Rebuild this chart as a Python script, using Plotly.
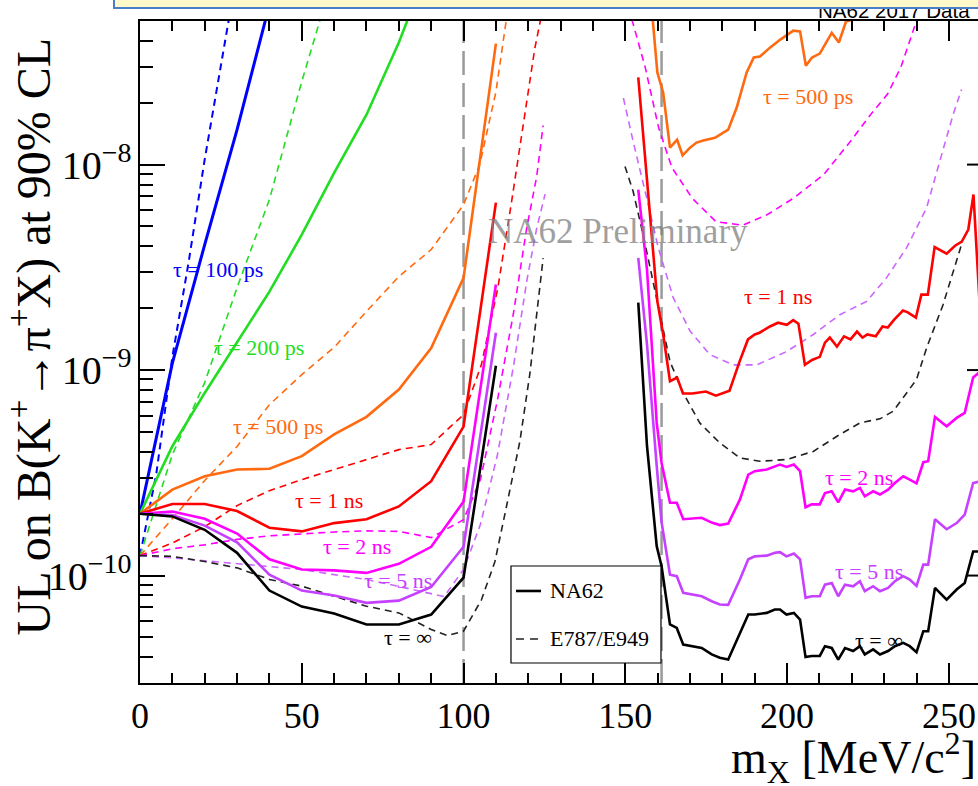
import plotly.graph_objects as go

# ---------------- data ----------------
# NA62 solid curves, low-mass region (x in MeV/c^2)
x_left = [0, 10, 20, 30, 40, 50, 60, 70, 80, 90, 100, 110]
na62_inf_left = [2.0e-10, 1.94e-10, 1.67e-10, 1.29e-10, 8.45e-11, 7.06e-11, 6.53e-11,
                 5.78e-11, 5.78e-11, 6.46e-11, 9.77e-11, 1.05e-9]
na62_5ns_left = [2.0e-10, 1.97e-10, 1.75e-10, 1.45e-10, 1.01e-10, 8.45e-11, 8.0e-11,
                 7.36e-11, 7.55e-11, 8.79e-11, 1.38e-10, 1.52e-9]
na62_2ns_left = [2.0e-10, 2.05e-10, 1.89e-10, 1.60e-10, 1.20e-10, 1.07e-10, 1.06e-10,
                 1.03e-10, 1.14e-10, 1.38e-10, 2.29e-10, 2.61e-9]
na62_1ns_left = [2.0e-10, 2.23e-10, 2.23e-10, 2.06e-10, 1.71e-10, 1.64e-10, 1.80e-10,
                 1.88e-10, 2.17e-10, 2.88e-10, 5.31e-10, 6.53e-9]
na62_500ps_left = [2.0e-10, 2.62e-10, 3.04e-10, 3.28e-10, 3.31e-10, 3.81e-10, 4.86e-10,
                   5.92e-10, 8.04e-10, 1.28e-9, 2.81e-9, 3.88e-8]
x_200ps = [0, 10, 20, 30, 40, 50, 60, 70, 80, 90]
na62_200ps = [2.0e-10, 4.26e-10, 7.74e-10, 1.36e-9, 2.41e-9, 4.56e-9, 9.11e-9,
              1.75e-8, 3.93e-8, 1.0e-7]
x_100ps = [0, 10, 20, 30, 40]
na62_100ps = [2.0e-10, 1.08e-9, 4.08e-9, 1.48e-8, 6.0e-8]

# NA62 solid curves, high-mass region
x_right = [154.0, 156.7, 159.7, 161.2, 163.8, 165.9, 167.9, 173.6, 176.7, 179.2,
           181.8, 185.4, 188.0, 190.0, 193.7, 196.2, 197.8, 199.8, 202.1, 204.0,
           205.7, 207.6, 210.1, 211.7, 213.8, 215.8, 217.9, 220.4, 222.5, 224.0,
           226.6, 228.7, 231.2, 233.3, 235.9, 237.9, 240.0, 242.1, 243.6, 245.7,
           249.3, 252.4, 254.9, 257.5, 259.6]
na62_inf_right = [2.13e-9, 4.26e-10, 1.39e-10, 1.11e-10, 5.78e-11, 5.56e-11, 4.61e-11,
                  4.44e-11, 4.13e-11, 3.98e-11, 3.90e-11, 5.26e-11, 6.46e-11, 6.46e-11,
                  6.58e-11, 6.84e-11, 6.84e-11, 6.46e-11, 6.58e-11, 6.11e-11, 4.01e-11,
                  4.06e-11, 4.06e-11, 4.53e-11, 4.44e-11, 3.90e-11, 4.44e-11, 4.29e-11,
                  4.53e-11, 4.13e-11, 4.37e-11, 4.13e-11, 4.29e-11, 4.53e-11, 4.70e-11,
                  4.53e-11, 4.24e-11, 5.36e-11, 5.36e-11, 8.71e-11, 7.64e-11, 8.55e-11,
                  9.2e-11, 1.31e-10, 1.31e-10]
na62_5ns_right = [3.52e-9, 1.33e-9, 3.42e-10, 1.82e-10, 1.01e-10, 9.93e-11, 8.24e-11,
                  7.93e-11, 7.50e-11, 7.23e-11, 7.20e-11, 9.57e-11, 1.20e-10, 1.24e-10,
                  1.25e-10, 1.29e-10, 1.30e-10, 1.24e-10, 1.28e-10, 1.20e-10, 7.79e-11,
                  7.93e-11, 7.93e-11, 9.03e-11, 9.2e-11, 7.93e-11, 9.03e-11, 8.87e-11,
                  9.38e-11, 8.39e-11, 8.87e-11, 8.39e-11, 8.71e-11, 9.38e-11, 9.93e-11,
                  9.57e-11, 8.9e-11, 1.13e-10, 1.13e-10, 1.88e-10, 1.68e-10, 1.80e-10,
                  1.98e-10, 2.82e-10, 2.87e-10]
na62_2ns_right = [7.55e-9, 3.08e-9, 5.53e-10, 3.53e-10, 2.26e-10, 2.26e-10, 1.88e-10,
                  1.91e-10, 1.81e-10, 1.76e-10, 1.79e-10, 2.34e-10, 3.10e-10, 3.22e-10,
                  3.28e-10, 3.41e-10, 3.47e-10, 3.38e-10, 3.47e-10, 3.22e-10, 2.15e-10,
                  2.22e-10, 2.22e-10, 2.52e-10, 2.57e-10, 2.27e-10, 2.62e-10, 2.57e-10,
                  2.67e-10, 2.43e-10, 2.57e-10, 2.48e-10, 2.62e-10, 2.82e-10, 3.04e-10,
                  2.93e-10, 2.81e-10, 3.56e-10, 3.60e-10, 5.91e-10, 5.33e-10, 5.85e-10,
                  6.19e-10, 9.2e-10, 9.8e-10]
x_1ns_right = [154.0, 159.9, 161.7, 163.8, 166.0, 167.8, 170.7, 174.9, 178.0, 182.2,
               185.3, 187.9, 190.0, 191.5, 194.7, 197.2, 199.9, 201.9, 203.5, 205.5,
               207.7, 210.1, 211.7, 213.2, 215.4, 217.6, 219.6, 221.6, 223.3, 224.8,
               227.4, 229.5, 231.1, 233.1, 235.8, 237.3, 239.8, 241.5, 243.5, 245.6,
               249.3, 251.9, 254.0, 256.0, 257.6, 259.6]
na62_1ns_right = [2.66e-8, 2.16e-9, 1.49e-9, 8.83e-10, 9.2e-10, 7.69e-10, 7.69e-10,
                  7.86e-10, 7.51e-10, 7.94e-10, 1.10e-9, 1.41e-9, 1.49e-9, 1.52e-9,
                  1.63e-9, 1.70e-9, 1.66e-9, 1.75e-9, 1.68e-9, 1.06e-9, 1.12e-9,
                  1.16e-9, 1.36e-9, 1.44e-9, 1.30e-9, 1.46e-9, 1.41e-9, 1.54e-9,
                  1.44e-9, 1.49e-9, 1.46e-9, 1.63e-9, 1.61e-9, 1.76e-9, 1.95e-9,
                  1.91e-9, 1.80e-9, 2.33e-9, 2.33e-9, 3.97e-9, 3.69e-9, 4.03e-9,
                  4.22e-9, 4.83e-9, 7.15e-9, 1.97e-9]
x_500ps_right = [154.0, 159.9, 161.7, 163.8, 166.0, 167.7, 170.0, 172.0, 174.1, 177.7,
                 181.8, 184.4, 187.5, 189.7, 191.6, 194.7, 197.8, 200.3, 201.9, 204.0,
                 205.8, 207.7, 210.1, 213.8, 216.0, 218.2, 219.7, 223.0]
na62_500ps_right = [3.2e-7, 2.81e-8, 2.24e-8, 1.21e-8, 1.32e-8, 1.11e-8, 1.21e-8,
                    1.28e-8, 1.31e-8, 1.35e-8, 1.48e-8, 1.89e-8, 2.81e-8, 3.32e-8,
                    3.36e-8, 3.71e-8, 4.05e-8, 4.29e-8, 4.49e-8, 4.45e-8, 3.03e-8,
                    3.32e-8, 3.47e-8, 4.38e-8, 3.93e-8, 4.97e-8, 5.05e-8, 6.5e-8]

# E787/E949 dashed curves
e949_inf_left_x = [0, 10, 20, 30, 40, 50, 60, 70, 80, 90, 95, 100, 105.5, 109.7,
                   113.3, 117.4, 120.5, 122.6, 124.6]
e949_inf_left = [1.25e-10, 1.24e-10, 1.17e-10, 1.09e-10, 9.57e-11, 8.88e-11, 7.93e-11,
                 7.09e-11, 6.58e-11, 5.46e-11, 5.1e-11, 5.36e-11, 7.6e-11, 1.17e-10,
                 2.18e-10, 4.49e-10, 9.6e-10, 1.88e-9, 3.51e-9]
e949_5ns_left_x = [0, 10, 20, 30, 40, 50, 60, 70, 80, 90, 94, 100, 105.2, 110.5,
                   115.5, 119.6, 122.6, 125.2]
e949_5ns_left = [1.25e-10, 1.22e-10, 1.18e-10, 1.14e-10, 1.11e-10, 1.07e-10, 1.01e-10,
                 9.57e-11, 8.85e-11, 8.17e-11, 7.9e-11, 1.07e-10, 1.77e-10, 3.88e-10,
                 1.06e-9, 2.75e-9, 4.89e-9, 7.18e-9]
e949_2ns_left_x = [0, 10, 20, 30, 40, 50, 60, 70, 80, 90, 100, 105.2, 110.5, 115.4,
                   119.5, 122.6, 124.6]
e949_2ns_left = [1.25e-10, 1.35e-10, 1.41e-10, 1.50e-10, 1.56e-10, 1.60e-10, 1.63e-10,
                 1.65e-10, 1.64e-10, 1.53e-10, 1.87e-10, 2.93e-10, 7.18e-10, 1.88e-9,
                 4.89e-9, 8.74e-9, 1.55e-8]
e949_1ns_x = [0, 10, 20, 30, 40, 50, 60, 70, 80, 90, 100, 105.5, 110.6, 114.8, 118.9,
              122.0, 123.6, 125.0]
e949_1ns = [1.25e-10, 1.44e-10, 1.73e-10, 2.19e-10, 2.59e-10, 2.93e-10, 3.28e-10,
            3.66e-10, 4.10e-10, 4.34e-10, 6.07e-10, 1.06e-9, 2.51e-9, 6.53e-9, 1.79e-8,
            3.66e-8, 4.89e-8, 6.5e-8]
e949_500ps_x = [0, 10, 20, 30, 40, 50, 60, 70, 80, 90, 100, 105, 110, 113, 115]
e949_500ps = [1.25e-10, 1.89e-10, 2.90e-10, 4.25e-10, 6.79e-10, 9.5e-10, 1.29e-9,
              1.93e-9, 2.85e-9, 3.86e-9, 6.38e-9, 1.0e-8, 2.26e-8, 4.8e-8, 7.0e-8]
e949_200ps_x = [0, 10, 20, 30, 40, 50, 60]
e949_200ps = [1.25e-10, 3.88e-10, 8.69e-10, 2.52e-9, 6.76e-9, 2.54e-8, 8.6e-8]
e949_100ps_x = [0, 5, 10, 15, 20, 25, 30]
e949_100ps = [1.25e-10, 3.1e-10, 1.16e-9, 3.33e-9, 1.06e-8, 3.07e-8, 8.7e-8]

e949_inf_right_x = [149.9, 152.4, 155.5, 158.6, 161.2, 163.8, 167.9, 173.0, 179.2, 185.4,
                    191.6, 199.8, 208.1, 216.3, 222.5, 228.7, 232.8, 236.9, 240.0, 243.1,
                    248.2, 253.9]
e949_inf_right = [9.8e-9, 7.42e-9, 4.56e-9, 2.70e-9, 1.73e-9, 1.10e-9, 7.74e-10, 5.53e-10,
                  4.42e-10, 3.74e-10, 3.60e-10, 3.67e-10, 4.02e-10, 4.86e-10, 5.53e-10,
                  5.79e-10, 6.31e-10, 7.74e-10, 9.0e-10, 1.28e-9, 2.08e-9, 4.08e-9]
e949_5ns_right_x = [149.4, 152.4, 156.6, 160.2, 164.8, 170.0, 176.1, 183.3, 190.6, 199.8,
                    208.1, 216.3, 224.6, 230.7, 236.9, 243.1, 247.2, 251.3, 253.9]
e949_5ns_right = [2.11e-8, 1.30e-8, 6.89e-9, 3.93e-9, 2.25e-9, 1.55e-9, 1.19e-9, 1.06e-9,
                  1.06e-9, 1.23e-9, 1.49e-9, 1.86e-9, 2.16e-9, 2.81e-9, 3.93e-9, 6.15e-9,
                  1.04e-8, 1.75e-8, 2.32e-8]
e949_2ns_right_x = [150.0, 156.1, 160.3, 164.4, 170.7, 178.0, 186.3, 193.6, 201.9, 211.3,
                    219.6, 225.9, 231.1, 235.2, 239.4, 241.0]
e949_2ns_right = [6.6e-8, 3.0e-8, 1.51e-8, 9.67e-9, 6.85e-9, 5.28e-9, 5.07e-9, 5.68e-9,
                  6.85e-9, 8.94e-9, 1.30e-8, 1.76e-8, 2.21e-8, 2.99e-8, 4.70e-8, 6.0e-8]

vline_x = [100, 161.2]

# ---------------- style ----------------
FONT = "Liberation Serif"
BLUE, GREEN, ORANGE, RED = "#0000ff", "#22dd22", "#ff6a10", "#ff0000"
MAGENTA, VIOLET, BLACK = "#ff00ff", "#c640ff", "#000000"
VIOLET_D = "#cc66ff"

fig = go.Figure()


def add(x, y, color, dashed=False, width=None):
    fig.add_trace(go.Scatter(
        x=x, y=y, mode="lines", hoverinfo="skip", showlegend=False,
        line=dict(color=color, width=width if width else (1.6 if dashed else 2.6),
                  dash="7px,5px" if dashed else "solid")))


# dashed E787/E949 curves first
add(e949_100ps_x, e949_100ps, BLUE, True, 2.0)
add(e949_200ps_x, e949_200ps, GREEN, True)
add(e949_500ps_x, e949_500ps, ORANGE, True)
add(e949_1ns_x, e949_1ns, RED, True)
add(e949_2ns_left_x, e949_2ns_left, MAGENTA, True)
add(e949_5ns_left_x, e949_5ns_left, VIOLET_D, True)
add(e949_inf_left_x, e949_inf_left, "#222222", True)
add(e949_2ns_right_x, e949_2ns_right, MAGENTA, True)
add(e949_5ns_right_x, e949_5ns_right, VIOLET_D, True)
add(e949_inf_right_x, e949_inf_right, "#222222", True)

# NA62 solid curves
add(x_100ps, na62_100ps, BLUE, width=3)
add(x_200ps, na62_200ps, GREEN)
add(x_left, na62_500ps_left, ORANGE)
add(x_500ps_right, na62_500ps_right, ORANGE)
add(x_left, na62_1ns_left, RED)
add(x_1ns_right, na62_1ns_right, RED)
add(x_left, na62_2ns_left, MAGENTA)
add(x_right, na62_2ns_right, MAGENTA)
add(x_left, na62_5ns_left, VIOLET)
add(x_right, na62_5ns_right, VIOLET)
add(x_left, na62_inf_left, BLACK)
add(x_right, na62_inf_right, BLACK)

# vertical dashed grey markers
for xv in vline_x:
    fig.add_shape(type="line", xref="x", yref="paper", x0=xv, x1=xv, y0=0, y1=1,
                  line=dict(color="#9a9a9a", width=2.5, dash="24px,8px"), layer="below")

# partial right-hand ticks (frame is cut at the right)
for yp in [0.7831, 0.4727, 0.1623]:
    fig.add_shape(type="line", xref="paper", yref="paper", x0=0.9869, x1=1.0,
                  y0=yp, y1=yp, line=dict(color="black", width=2))

# legend box (drawn by hand)
fig.add_shape(type="rect", xref="paper", yref="paper", x0=0.4427, x1=0.6217,
              y0=0.0302, y1=0.1767, line=dict(color="black", width=1.2),
              fillcolor="white", layer="above")
fig.add_shape(type="line", xref="paper", yref="paper", x0=0.4487, x1=0.4785,
              y0=0.1390, y1=0.1390, line=dict(color="black", width=2.6), layer="above")
fig.add_shape(type="line", xref="paper", yref="paper", x0=0.4487, x1=0.4785,
              y0=0.0665, y1=0.0665, line=dict(color="#222222", width=1.6, dash="8px,6px"),
              layer="above")

ann = []


def label(text, x, ly, color, size=22, family=FONT):
    ann.append(dict(text=text, x=x, y=ly, xref="x", yref="y", showarrow=False,
                    font=dict(family=family, size=size, color=color)))


label("τ = 100 ps", 24.1, -8.511, BLUE)
label("τ = 200 ps", 36.8, -8.890, GREEN)
label("τ = 500 ps", 42.6, -9.275, ORANGE)
label("τ = 1 ns", 58.4, -9.635, RED)
label("τ = 2 ns", 67.1, -9.859, MAGENTA)
label("τ = 5 ns", 79.8, -10.024, VIOLET)
label("τ = ∞", 82.8, -10.300, BLACK)
label("τ = 500 ps", 206.4, -7.669, ORANGE)
label("τ = 1 ns", 197.2, -8.642, RED)
label("τ = 2 ns", 222.2, -9.523, MAGENTA)
label("τ = 5 ns", 225.3, -9.981, VIOLET)
label("τ = ∞", 228.4, -10.316, BLACK)

ann.append(dict(text="NA62 Preliminary", x=147.7, y=-8.326, xref="x", yref="y",
                showarrow=False, opacity=0.75,
                font=dict(family=FONT, size=35, color="#808080")))

# legend texts
ann.append(dict(text="NA62", x=0.4869, y=0.1390, xref="paper", yref="paper",
                xanchor="left", yanchor="middle", showarrow=False,
                font=dict(family=FONT, size=22, color="black")))
ann.append(dict(text="E787/E949", x=0.4869, y=0.0665, xref="paper", yref="paper",
                xanchor="left", yanchor="middle", showarrow=False,
                font=dict(family=FONT, size=22, color="black")))

# axis titles
ann.append(dict(text="UL on B(K<sup>+</sup>→π<sup>+</sup>X) at 90% CL", x=-0.1313,
                y=0.5235, xref="paper", yref="paper", textangle=-90, showarrow=False,
                xanchor="center", yanchor="middle",
                font=dict(family=FONT, size=48, color="black")))
ann.append(dict(text="m<sub>X</sub> [MeV/c<sup>2</sup>]", x=1.0, y=-0.113,
                xref="paper", yref="paper", xanchor="right", yanchor="middle",
                showarrow=False, font=dict(family=FONT, size=46, color="black")))

# header text, then the slide banner on top of it
ann.append(dict(text="NA62 2017 Data", x=0.9928, y=1.0166, xref="paper", yref="paper",
                xanchor="right", yanchor="middle", showarrow=False,
                font=dict(family="Liberation Sans", size=20.5, color="black")))
ann.append(dict(text=" ", x=-0.0322, y=1.0174, xref="paper", yref="paper",
                xanchor="left", yanchor="bottom", showarrow=False, width=1000,
                height=30, bgcolor="#fff8c8", bordercolor="#4a7ec8", borderwidth=2,
                borderpad=0))

fig.update_layout(
    width=978, height=786,
    margin=dict(l=140, r=0, t=21, b=103),
    paper_bgcolor="white", plot_bgcolor="white",
    showlegend=False,
    annotations=ann,
    xaxis=dict(range=[0, 259], showline=True, linewidth=2, linecolor="black",
               mirror="ticks", ticks="inside", ticklen=20, tickwidth=2, tickcolor="black",
               dtick=50, tick0=0, showgrid=False, zeroline=False,
               tickfont=dict(family=FONT, size=36, color="black"),
               minor=dict(dtick=10, ticklen=10, tickwidth=2, tickcolor="black",
                          ticks="inside", showgrid=False)),
    yaxis=dict(type="log", range=[-10.523, -7.301], showline=True, linewidth=2,
               linecolor="black", ticks="inside", ticklen=25, tickwidth=2,
               tickcolor="black", dtick=1, exponentformat="power", showgrid=False,
               zeroline=False, tickfont=dict(family=FONT, size=32, color="black"),
               minor=dict(ticklen=13, tickwidth=2, tickcolor="black", ticks="inside",
                          showgrid=False)),
)

fig.write_html("out.html", config={"displayModeBar": False},
               post_script="document.body.style.margin='0px';")
